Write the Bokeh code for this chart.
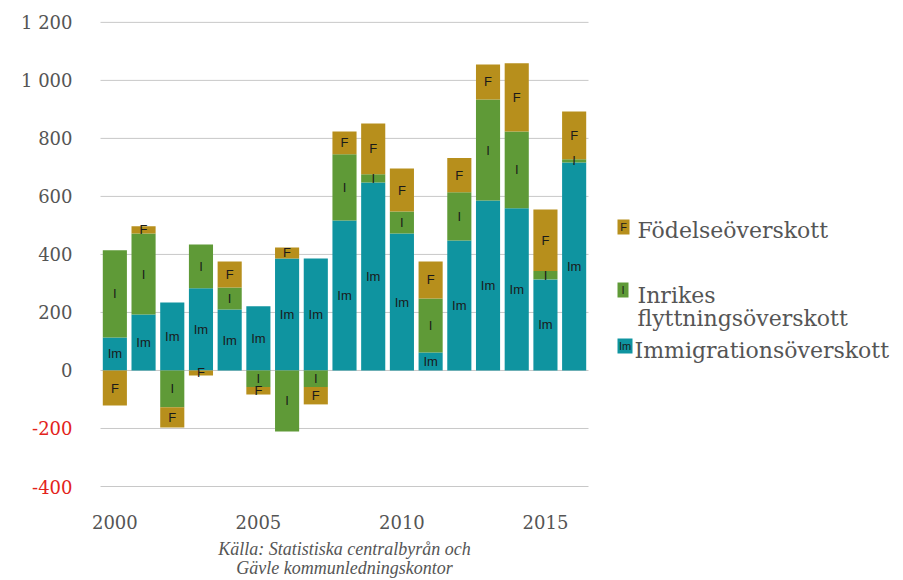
from bokeh.plotting import figure
from bokeh.models import Range1d, ColumnDataSource
from bokeh.embed import file_html
from bokeh.resources import INLINE
from bokeh.core.properties import value

# ---------------- data ----------------
years = list(range(2000, 2017))
immigration = [114, 193, 234, 283, 210, 221, 386, 386, 517, 648, 472, 62, 448, 586, 559, 314, 717]
inrikes = [300, 279, -127, 151, 76, -57, -210, -57, 228, 28, 76, 186, 166, 348, 265, 29, 11]
fodelse = [-121, 25, -70, -17, 90, -26, 38, -60, 79, 175, 148, 128, 118, 121, 235, 212, 165]

series_short = ["Im", "I", "F"]
colors = ["#0f94a0", "#5f9a37", "#b78f1c"]

y_ticks = [-400, -200, 0, 200, 400, 600, 800, 1000, 1200]
y_tick_labels = ["-400", "-200", "0", "200", "400", "600", "800", "1 000", "1 200"]
x_ticks = [2000, 2005, 2010, 2015]
x_tick_labels = ["2000", "2005", "2010", "2015"]
source_lines = ["Källa: Statistiska centralbyrån och", "Gävle kommunledningskontor"]

legend_letters = ["F", "I", "Im"]
legend_colors = ["#b78f1c", "#5f9a37", "#0f94a0"]
legend_texts = [["Födelseöverskott"], ["Inrikes", "flyttningsöverskott"], ["Immigrationsöverskott"]]

# ---------------- layout (page pixels) ----------------
ORIGIN = 0                       # where the figure lands on the page
FW, FH = 901, 578                # figure size
PLOT_L, PLOT_R = 100, 588        # plot area, page px
PLOT_T, PLOT_B = 12, 486         # plot area, page px
X0, X1 = 1999.5, 2016.5
Y0, Y1 = -400, 1234

pitch = (PLOT_R - PLOT_L) / (X1 - X0)
k = (PLOT_B - PLOT_T) / (Y1 - Y0)
x_start = X0 - (PLOT_L - ORIGIN) / pitch
x_end = x_start + FW / pitch
y_end = Y1 + (PLOT_T - ORIGIN) / k
y_start = y_end - FH / k


def xd(px):
    return x_start + (px - ORIGIN) / pitch


def yd(py):
    return y_end - (py - ORIGIN) / k


p = figure(width=FW, height=FH, output_backend="svg", toolbar_location=None,
           x_range=Range1d(x_start, x_end), y_range=Range1d(y_start, y_end),
           min_border_left=0, min_border_right=0, min_border_top=0, min_border_bottom=0)
p.outline_line_color = None
p.background_fill_color = "white"
p.border_fill_color = "white"
p.axis.visible = False
p.grid.visible = False

# grid lines across the plot area only
p.segment(x0=[X0] * len(y_ticks), x1=[X1] * len(y_ticks), y0=y_ticks, y1=y_ticks,
          line_color="#c8c8c8", line_width=1)

# stacked bars (positive and negative parts stacked separately)
n = len(years)
pos = [0] * n
neg = [0] * n
text_sources = []
for short, color, vals in zip(series_short, colors, [immigration, inrikes, fodelse]):
    bottoms, tops, mids = [], [], []
    for i, v in enumerate(vals):
        if v >= 0:
            b = pos[i]
            t = b + v
            pos[i] = t
        else:
            b = neg[i]
            t = b + v
            neg[i] = t
        bottoms.append(b)
        tops.append(t)
        mids.append((b + t) / 2)
    src = ColumnDataSource(dict(x=years, bottom=bottoms, top=tops, mid=mids, label=[short] * n))
    p.vbar(x="x", bottom="bottom", top="top", width=0.84, fill_color=color, line_color=None, source=src)
    text_sources.append(src)

for src in text_sources:
    p.text(x="x", y="mid", text="label", source=src, text_font=value("Liberation Sans"),
           text_font_size="13px", text_align="center", text_baseline="middle", text_color="#1a1a1a")

# y tick labels
p.text(x=[X0] * len(y_ticks), y=y_ticks, text=y_tick_labels, x_offset=-28,
       text_align="right", text_baseline="middle", text_font=value("DejaVu Serif"),
       text_font_size="18px",
       text_color=["#e3231b" if v < 0 else "#555555" for v in y_ticks])

# x tick labels
p.text(x=x_ticks, y=[Y0] * len(x_ticks), text=x_tick_labels, y_offset=35,
       text_align="center", text_baseline="middle", text_font=value("DejaVu Serif"),
       text_font_size="18px", text_color="#555555")

# source
p.text(x=[(X0 + X1) / 2] * 2, y=[Y0, Y0], text=source_lines, y_offset=[62, 81],
       text_align="center", text_baseline="middle", text_font=value("Liberation Serif"),
       text_font_style="italic", text_font_size="18px", text_color="#555555")

# legend
box_left = 617
box_w = {"F": 12, "I": 11, "Im": 15}
box_top = [219, 282, 338]
baselines = [[230], [295, 318], [350]]
for letter, color, texts, bt, bls in zip(legend_letters, legend_colors, legend_texts, box_top, baselines):
    bw = box_w[letter]
    p.quad(left=[xd(box_left)], right=[xd(box_left + bw)], top=[yd(bt)], bottom=[yd(bt + 15)],
           fill_color=color, line_color=None)
    p.text(x=[xd(box_left + bw / 2)], y=[yd(bt + 7.5)], text=[letter], text_font=value("Liberation Sans"),
           text_font_size="11px", text_align="center", text_baseline="middle", text_color="#1a1a1a")
    tx = 637 if letter != "Im" else box_left + bw + 2
    for t, bl in zip(texts, bls):
        p.text(x=[xd(tx)], y=[yd(bl)], text=[t], text_font=value("DejaVu Serif"), text_font_size="22px",
               text_align="left", text_baseline="alphabetic", text_color="#555555")

open("out.html", "w").write(file_html(p, INLINE))
